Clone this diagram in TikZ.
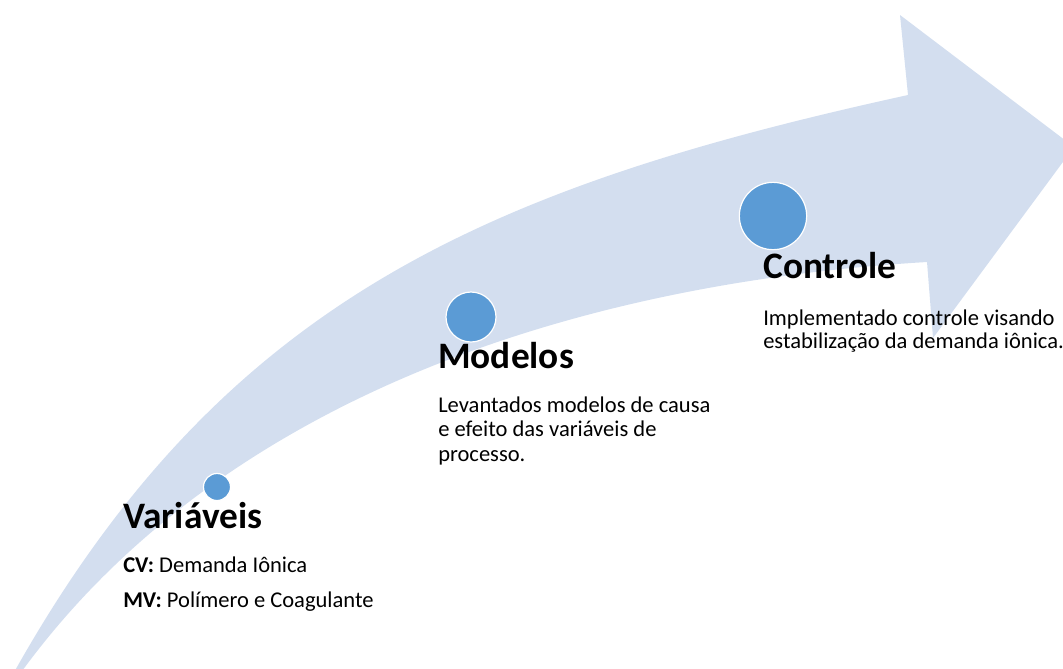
\documentclass[tikz,border=0pt]{standalone}
\usepackage{fontspec}
\setmainfont{Carlito}
\definecolor{band}{HTML}{D3DEEF}
\definecolor{dot}{HTML}{5B9BD5}
\begin{document}
\begin{tikzpicture}[x=0.75pt,y=-0.75pt,
  heading/.style={anchor=base west, inner sep=0pt, text=black, font=\bfseries\fontsize{28}{33}\selectfont},
  body/.style={anchor=base west, inner sep=0pt, text=black, font=\fontsize{16.9}{20}\selectfont},
  dotc/.style={circle, fill=dot, draw=white, line width=0.9pt, inner sep=0pt}]
\path[use as bounding box, clip] (0,0) rectangle (1063,668);
% curved arrow
\fill[band] (-9,713) -- (17,667) .. controls (225,300) and (488,187) .. (908,95)
  -- (900,15) -- (1074,147) -- (933,338) -- (927,262)
  .. controls (577,283) and (225,397) .. (25,667) -- cycle;
% dots
\node[dotc, minimum size=20.25pt] (c1) at (217,487) {};
\node[dotc, minimum size=37.5pt] (c2) at (471,317) {};
\node[dotc, minimum size=50.5pt] (c3) at (773,216) {};
% texts
\node[heading] (h1) at (123,528) {Variáveis};
\node[body] (v1) at (123,572) {\textbf{CV:} Demanda Iônica};
\node[body] (v2) at (123,607) {\textbf{MV:} Polímero e Coagulante};
\node[heading] (h2) at (438,368) {Modelos};
\node[body] (m1) at (438,412) {Levantados modelos de causa};
\node[body] (m2) at (438,436.5) {e efeito das variáveis de};
\node[body] (m3) at (438,461) {processo.};
\node[heading] (h3) at (763,278) {Controle};
\node[body] (k1) at (763,325) {Implementado controle visando};
\node[body] (k2) at (763,348) {estabilização da demanda iônica.};
\end{tikzpicture}
\end{document}
